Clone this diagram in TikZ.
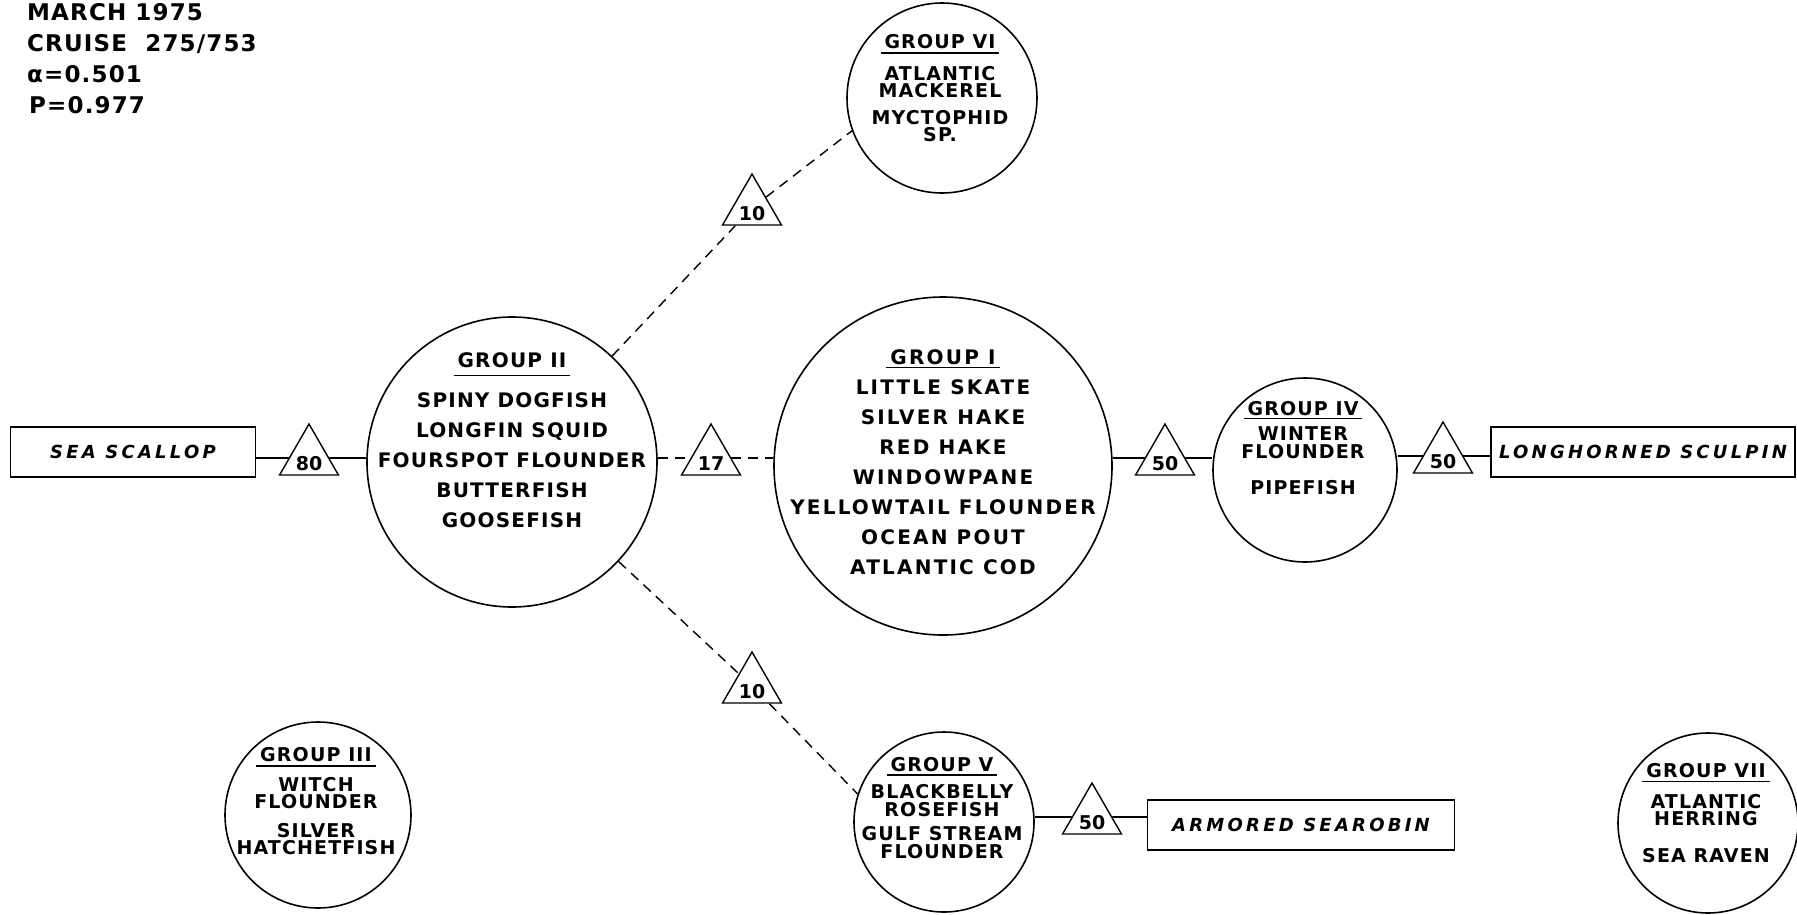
\documentclass[tikz,border=0pt]{standalone}
\usepackage{fontspec}
\setmainfont{DejaVu Sans}
\newfontfamily\fontGA[LetterSpace=6]{DejaVu Sans}
\newfontfamily\fontGB[LetterSpace=11]{DejaVu Sans}
\newfontfamily\fontGC[LetterSpace=6]{DejaVu Sans}
\newfontfamily\fontHD[LetterSpace=5]{DejaVu Sans}
\newfontfamily\fontBX[LetterSpace=18]{DejaVu Sans}
\usetikzlibrary{shapes.geometric}
\newcommand\gul[2][3pt]{\leavevmode\vtop{\hbox{\kern4pt#2\kern4pt}\kern#1\hrule height 1.8pt}}
\newcommand\tnum[1]{\smash{\makebox[0pt]{\raisebox{-12pt}{#1}}}}
\begin{document}
\begin{tikzpicture}[x=1pt,y=-1pt,
  grp/.style={circle,draw,line width=1.6pt,inner sep=0pt,minimum size=#1},
  gtxt/.style={align=center,inner sep=0pt},
  big/.style={font=\fontGA\fontsize{20}{30}\selectfont\bfseries},
  bigI/.style={font=\fontGB\fontsize{20}{30}\selectfont\bfseries},
  small/.style={font=\fontGC\fontsize{19}{#1}\selectfont\bfseries},
  tri/.style={regular polygon,regular polygon sides=3,draw,fill=white,line width=1.4pt,inner sep=0pt,minimum size=68pt,font=\fontsize{19}{19}\selectfont\bfseries},
  sbox/.style={draw,line width=1.6pt,minimum width=#1,minimum height=50pt,inner sep=0pt,font=\fontBX\fontsize{18}{18}\selectfont\bfseries\itshape},
  conn/.style={line width=1.4pt},
  dconn/.style={line width=1.4pt,dash pattern=on 10pt off 7pt}]
\useasboundingbox (0,0) rectangle (1797,914);

% header
\node[anchor=north west,align=left,inner sep=0pt,font=\fontHD\fontsize{23}{31}\selectfont\bfseries] (hd) at (27,3)
  {MARCH 1975\\CRUISE\ \ 275/753\\α=0.501\\\kern2pt P=0.977};

% circles
\node[grp=190pt] (g6) at (942,98) {};
\node[grp=290pt] (g2) at (512,462) {};
\node[grp=338pt] (g1) at (943,466) {};
\node[grp=184pt] (g4) at (1305,470) {};
\node[grp=180pt] (g5) at (944,822) {};
\node[grp=186pt] (g3) at (318,815) {};
\node[grp=180pt] (g7) at (1708,823) {};

% circle texts
\node[gtxt,small=17] (g6t) at (940,88)
  {\gul{GROUP VI}\\[11pt]ATLANTIC\\MACKEREL\\[10pt]MYCTOPHID\\SP.};
\node[gtxt,big] (g2t) at (512,440)
  {\gul[7pt]{GROUP II}\\[10pt]SPINY DOGFISH\\LONGFIN SQUID\\FOURSPOT FLOUNDER\\BUTTERFISH\\GOOSEFISH};
\node[gtxt,bigI] (g1t) at (943,462)
  {\gul[2pt]{GROUP I}\\LITTLE SKATE\\SILVER HAKE\\RED HAKE\\WINDOWPANE\\YELLOWTAIL FLOUNDER\\OCEAN POUT\\ATLANTIC COD};
\node[gtxt,small=18] (g4t) at (1303,448)
  {\gul[2pt]{GROUP IV}\\[7pt]WINTER\\FLOUNDER\\[18pt]PIPEFISH};
\node[gtxt,small=17.5] (g5t) at (942,808)
  {\gul[2pt]{GROUP V}\\[8pt]BLACKBELLY\\ROSEFISH\\[7pt]GULF STREAM\\FLOUNDER};
\node[gtxt,small=17] (g3t) at (316,801)
  {\gul[3pt]{GROUP III}\\[9pt]WITCH\\FLOUNDER\\[12pt]SILVER\\HATCHETFISH};
\node[gtxt,small=17] (g7t) at (1706,813)
  {\gul[3pt]{GROUP VII}\\[11pt]ATLANTIC\\HERRING\\[20pt]SEA RAVEN};

% boxes
\node[sbox=245pt] (ss) at (133,452) {SEA SCALLOP};
\node[sbox=304pt] (lh) at (1643,452) {LONGHORNED SCULPIN};
\node[sbox=307pt] (as) at (1301,825) {ARMORED SEAROBIN};

% triangles
\node[tri] (t80) at (309,458) {\tnum{80}};
\node[tri] (t17) at (711,458) {\tnum{17}};
\node[tri] (t10a) at (752,208) {\tnum{10}};
\node[tri] (t10b) at (752,686) {\tnum{10}};
\node[tri] (t50a) at (1165,458) {\tnum{50}};
\node[tri] (t50b) at (1443,456) {\tnum{50}};
\node[tri] (t50c) at (1092,817) {\tnum{50}};

% connectors
\draw[conn] (ss.east |- t80) -- (t80);
\draw[conn] (t80) -- (t80 -| g2.west);
\draw[dconn] (t17 -| g2.east) -- (t17);
\draw[dconn] (t17) -- (t17 -| g1.west);
\draw[conn] (t50a -| g1.east) -- (t50a);
\draw[conn] (t50a) -- (t50a -| g4.west);
\draw[conn] (t50b -| g4.east) -- (t50b);
\draw[conn] (t50b) -- (t50b -| lh.west);
\draw[conn] (t50c -| g5.east) -- (t50c);
\draw[conn] (t50c) -- (t50c -| as.west);
\draw[dconn] (g2) -- (t10a);
\draw[dconn] (t10a) -- (g6.200);
\draw[dconn] (g2) -- (t10b);
\draw[dconn] (t10b) -- (g5.162);
\end{tikzpicture}
\end{document}
